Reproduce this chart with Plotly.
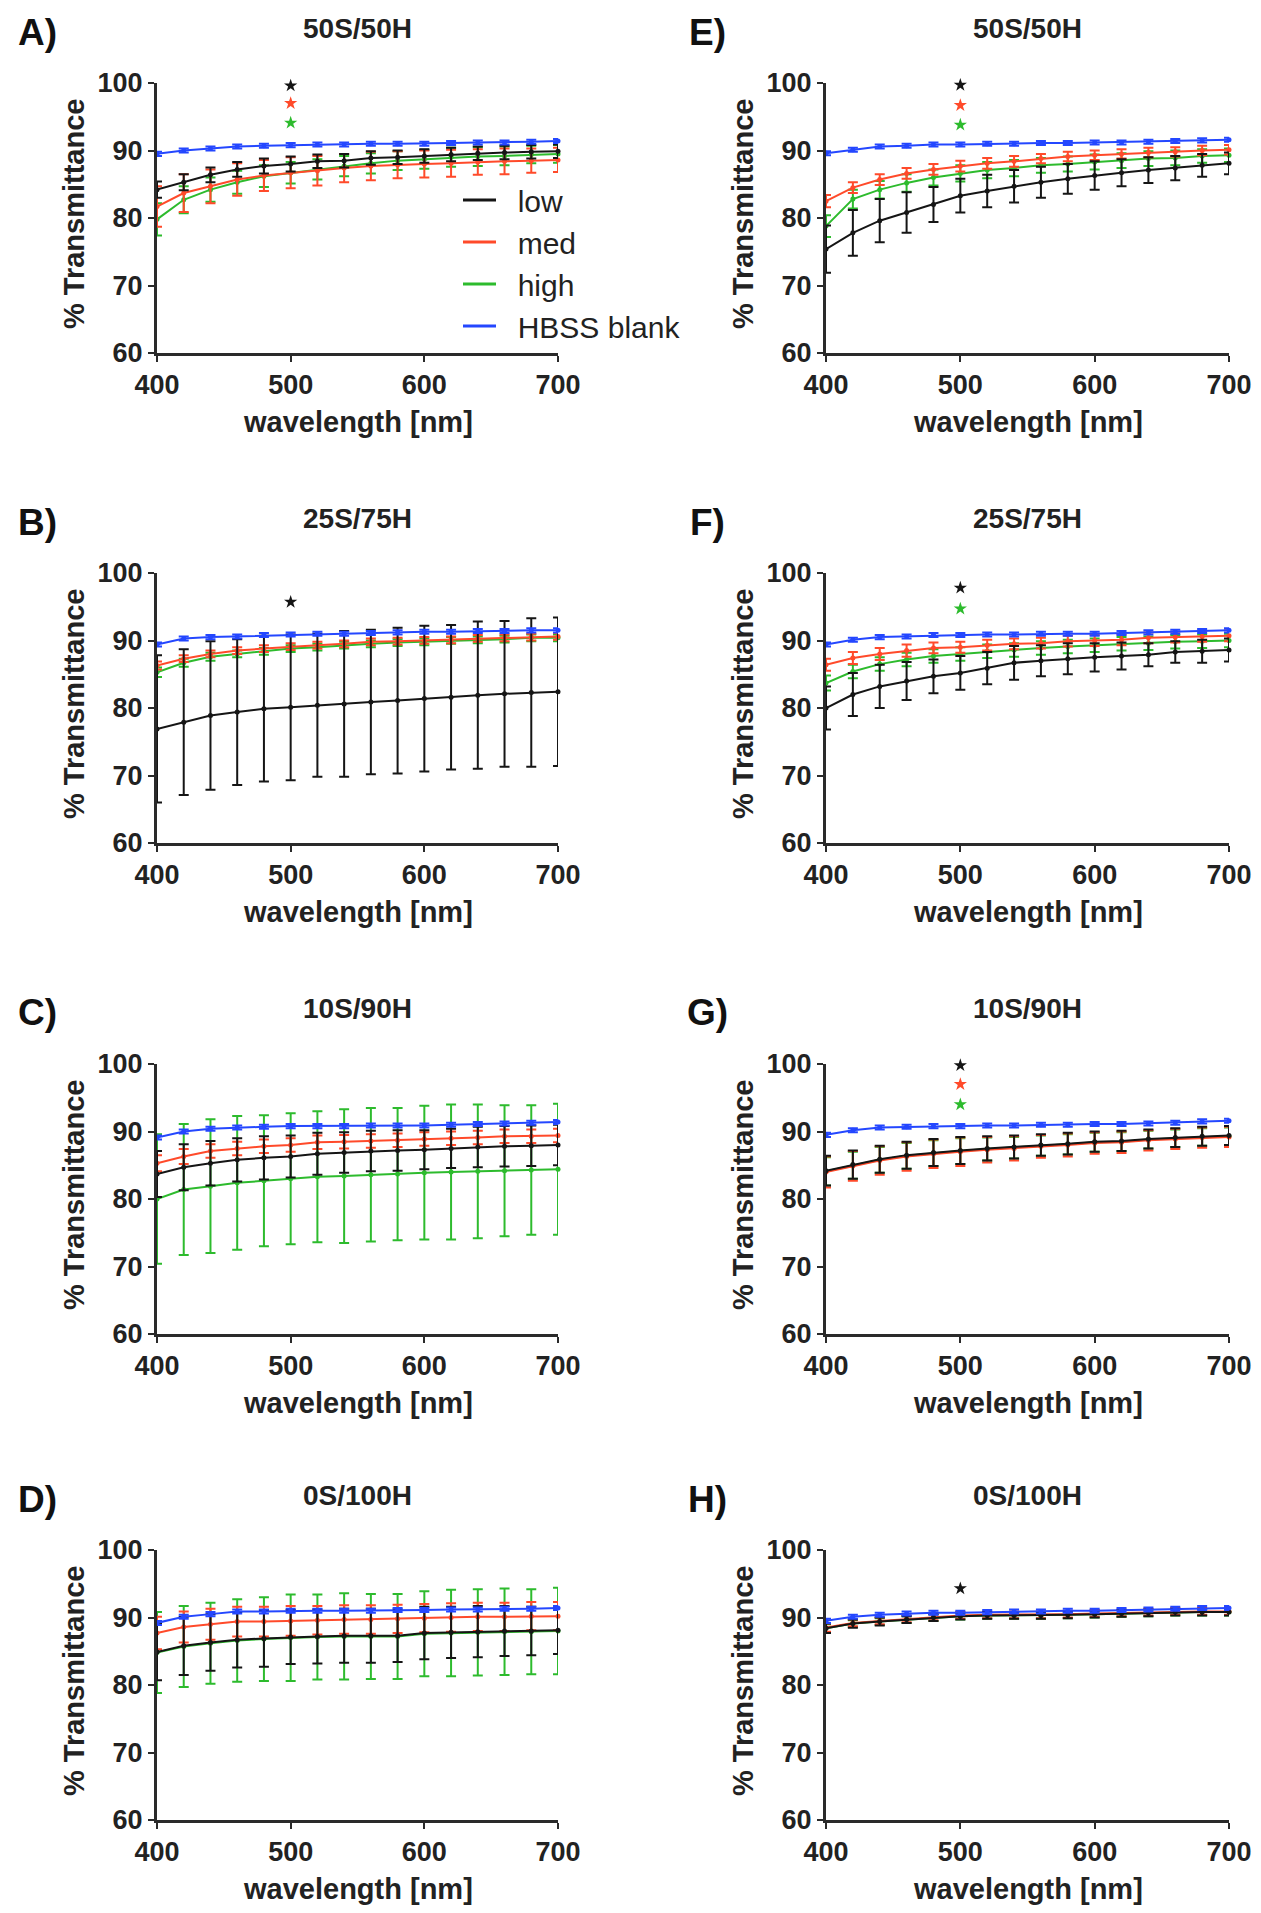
import plotly.graph_objects as go

# ---------------- data ----------------
wavelength = [400, 420, 440, 460, 480, 500, 520, 540, 560, 580, 600, 620, 640, 660, 680, 700]
series_names = ["low", "med", "high", "HBSS blank"]
panel_letters = ["A)", "B)", "C)", "D)", "E)", "F)", "G)", "H)"]
panel_titles = ["50S/50H", "25S/75H", "10S/90H", "0S/100H", "50S/50H", "25S/75H", "10S/90H", "0S/100H"]
x_ticks = [400, 500, 600, 700]
y_ticks = [60, 70, 80, 90, 100]

# Panel A
A_low = [84.2, 85.3, 86.4, 87.2, 87.7, 88.0, 88.4, 88.5, 88.9, 89.0, 89.2, 89.4, 89.6, 89.7, 89.8, 89.9]
A_low_err = [1.2, 1.2, 1.1, 1.1, 1.1, 1.1, 1.0, 1.0, 1.0, 1.0, 1.0, 1.0, 1.0, 1.0, 1.0, 1.0]
A_med = [81.7, 83.7, 84.7, 85.7, 86.3, 86.7, 87.0, 87.4, 87.7, 87.9, 88.0, 88.1, 88.3, 88.4, 88.5, 88.6]
A_med_err = [3.0, 2.8, 2.5, 2.4, 2.3, 2.3, 2.2, 2.1, 2.1, 2.0, 2.0, 2.0, 1.9, 1.9, 1.8, 1.8]
A_high = [79.8, 82.7, 84.2, 85.3, 86.2, 86.7, 87.2, 87.7, 88.1, 88.5, 88.7, 89.0, 89.1, 89.2, 89.4, 89.5]
A_high_err = [2.4, 2.0, 1.8, 1.7, 1.6, 1.6, 1.5, 1.5, 1.5, 1.4, 1.4, 1.4, 1.4, 1.4, 1.3, 1.3]
A_blank = [89.5, 90.0, 90.3, 90.6, 90.7, 90.8, 90.9, 90.9, 91.0, 91.0, 91.0, 91.1, 91.2, 91.2, 91.3, 91.4]
A_blank_err = [0.3] * 16
A_stars = [99.6, 97.0, 94.1]

# Panel B
B_low = [76.9, 77.9, 78.9, 79.4, 79.9, 80.1, 80.4, 80.6, 80.9, 81.1, 81.4, 81.6, 81.9, 82.1, 82.3, 82.4]
B_low_err = [10.9, 10.8, 11.0, 10.8, 10.8, 10.8, 10.6, 10.8, 10.7, 10.8, 10.8, 10.7, 10.9, 10.8, 11.0, 11.0]
B_med = [86.3, 87.3, 88.0, 88.5, 88.8, 89.1, 89.3, 89.5, 89.8, 89.9, 90.0, 90.1, 90.3, 90.4, 90.5, 90.6]
B_med_err = [0.6, 0.5, 0.5, 0.5, 0.5, 0.5, 0.5, 0.5, 0.5, 0.5, 0.5, 0.5, 0.5, 0.5, 0.5, 0.5]
B_high = [85.3, 86.7, 87.6, 88.0, 88.4, 88.8, 89.0, 89.3, 89.5, 89.7, 89.8, 90.0, 90.1, 90.2, 90.4, 90.4]
B_high_err = [0.7, 0.6, 0.6, 0.5, 0.5, 0.5, 0.5, 0.5, 0.5, 0.5, 0.5, 0.5, 0.5, 0.5, 0.5, 0.5]
B_blank = [89.4, 90.3, 90.5, 90.6, 90.8, 90.9, 91.0, 91.0, 91.1, 91.2, 91.3, 91.3, 91.4, 91.4, 91.5, 91.5]
B_blank_err = [0.3] * 16
B_stars = [95.7]

# Panel C
C_low = [83.7, 84.7, 85.3, 85.8, 86.1, 86.3, 86.7, 86.9, 87.1, 87.2, 87.3, 87.5, 87.7, 87.8, 87.9, 88.0]
C_low_err = [3.4, 3.4, 3.3, 3.2, 3.2, 3.1, 3.1, 3.0, 3.0, 3.0, 2.9, 2.9, 3.0, 3.0, 3.0, 3.0]
C_med = [85.3, 86.3, 87.1, 87.5, 87.8, 88.0, 88.4, 88.5, 88.6, 88.7, 88.9, 89.0, 89.1, 89.3, 89.3, 89.4]
C_med_err = [1.2, 1.1, 1.0, 1.0, 1.0, 1.0, 1.0, 1.0, 1.0, 1.0, 1.0, 1.0, 1.0, 1.0, 1.0, 1.0]
C_high = [80.0, 81.4, 81.9, 82.4, 82.7, 83.0, 83.3, 83.4, 83.6, 83.7, 83.9, 84.0, 84.1, 84.2, 84.3, 84.4]
C_high_err = [9.6, 9.7, 9.9, 9.9, 9.7, 9.7, 9.7, 9.9, 9.9, 9.8, 9.9, 10.0, 9.9, 9.7, 9.6, 9.7]
C_blank = [89.1, 90.0, 90.4, 90.6, 90.7, 90.8, 90.8, 90.8, 90.9, 90.9, 90.9, 91.0, 91.1, 91.2, 91.3, 91.4]
C_blank_err = [0.3] * 16
C_stars = []

# Panel D
D_low = [84.9, 85.8, 86.3, 86.7, 86.9, 87.1, 87.2, 87.3, 87.3, 87.3, 87.7, 87.8, 87.9, 88.0, 88.0, 88.1]
D_low_err = [4.2, 4.3, 4.2, 4.1, 4.2, 4.0, 4.0, 4.0, 4.0, 3.9, 3.9, 3.8, 3.8, 3.7, 3.6, 3.5]
D_med = [87.7, 88.6, 89.0, 89.4, 89.4, 89.5, 89.6, 89.7, 89.7, 89.8, 89.9, 90.0, 90.1, 90.1, 90.2, 90.2]
D_med_err = [2.4, 2.3, 2.3, 2.2, 2.2, 2.2, 2.1, 2.1, 2.1, 2.1, 2.1, 2.1, 2.1, 2.1, 2.1, 2.1]
D_high = [84.8, 85.7, 86.2, 86.6, 86.8, 87.0, 87.1, 87.2, 87.2, 87.2, 87.6, 87.7, 87.8, 87.9, 87.9, 88.0]
D_high_err = [6.0, 6.0, 6.0, 6.1, 6.2, 6.4, 6.3, 6.4, 6.3, 6.3, 6.3, 6.4, 6.4, 6.4, 6.3, 6.4]
D_blank = [89.2, 90.1, 90.5, 90.9, 90.9, 91.0, 91.0, 91.0, 91.0, 91.1, 91.1, 91.2, 91.2, 91.3, 91.3, 91.4]
D_blank_err = [0.3] * 16
D_stars = []

# Panel E
E_low = [75.4, 77.8, 79.6, 80.8, 82.0, 83.3, 84.0, 84.7, 85.3, 85.8, 86.3, 86.7, 87.1, 87.4, 87.8, 88.1]
E_low_err = [3.5, 3.4, 3.2, 3.0, 2.6, 2.5, 2.4, 2.4, 2.3, 2.2, 2.1, 2.0, 1.9, 1.8, 1.7, 1.6]
E_med = [82.5, 84.5, 85.7, 86.6, 87.2, 87.7, 88.1, 88.4, 88.8, 89.1, 89.3, 89.5, 89.7, 89.8, 90.0, 90.1]
E_med_err = [0.9, 0.8, 0.8, 0.8, 0.8, 0.8, 0.8, 0.8, 0.7, 0.7, 0.7, 0.7, 0.7, 0.7, 0.7, 0.7]
E_high = [78.8, 82.8, 84.2, 85.2, 86.0, 86.6, 87.1, 87.4, 87.8, 88.0, 88.3, 88.5, 88.8, 88.9, 89.2, 89.3]
E_high_err = [1.6, 1.4, 1.3, 1.3, 1.2, 1.2, 1.2, 1.2, 1.1, 1.1, 1.1, 1.1, 1.1, 1.1, 1.0, 1.0]
E_blank = [89.6, 90.1, 90.6, 90.7, 90.9, 90.9, 91.0, 91.0, 91.1, 91.1, 91.2, 91.2, 91.3, 91.4, 91.5, 91.6]
E_blank_err = [0.3] * 16
E_stars = [99.7, 96.7, 93.8]

# Panel F
F_low = [80.0, 82.0, 83.2, 84.0, 84.7, 85.2, 85.9, 86.7, 87.0, 87.3, 87.5, 87.7, 87.9, 88.3, 88.4, 88.6]
F_low_err = [3.2, 3.2, 3.2, 2.8, 2.5, 2.5, 2.4, 2.5, 2.3, 2.3, 2.1, 2.0, 1.7, 1.6, 1.7, 1.7]
F_med = [86.4, 87.4, 88.0, 88.5, 88.9, 89.0, 89.3, 89.5, 89.6, 89.9, 90.0, 90.1, 90.4, 90.5, 90.6, 90.7]
F_med_err = [0.9, 0.9, 0.9, 0.9, 0.8, 0.8, 0.8, 0.8, 0.8, 0.8, 0.8, 0.8, 0.8, 0.8, 0.8, 0.8]
F_high = [83.7, 85.4, 86.5, 87.2, 87.7, 88.0, 88.4, 88.6, 88.9, 89.1, 89.3, 89.5, 89.6, 89.8, 89.9, 90.0]
F_high_err = [1.1, 1.0, 1.0, 1.0, 1.0, 1.0, 1.0, 1.0, 1.0, 1.0, 1.0, 1.0, 1.0, 1.0, 1.0, 1.0]
F_blank = [89.4, 90.1, 90.5, 90.6, 90.8, 90.8, 90.9, 90.9, 91.0, 91.0, 91.0, 91.1, 91.2, 91.3, 91.4, 91.5]
F_blank_err = [0.3] * 16
F_stars = [97.8, None, 94.7]

# Panel G
G_low = [84.2, 85.1, 85.9, 86.5, 86.9, 87.2, 87.5, 87.7, 88.0, 88.2, 88.5, 88.6, 88.9, 89.1, 89.3, 89.4]
G_low_err = [2.2, 2.1, 2.0, 2.0, 2.0, 2.0, 1.8, 1.7, 1.6, 1.6, 1.5, 1.5, 1.4, 1.4, 1.4, 1.4]
G_med = [84.0, 84.9, 85.7, 86.3, 86.7, 87.0, 87.3, 87.5, 87.8, 88.0, 88.3, 88.4, 88.7, 88.9, 89.1, 89.2]
G_med_err = [2.3, 2.2, 2.1, 2.1, 2.1, 2.1, 1.9, 1.8, 1.7, 1.7, 1.6, 1.6, 1.5, 1.5, 1.5, 1.5]
G_high = [84.1, 85.0, 85.8, 86.4, 86.8, 87.1, 87.4, 87.6, 87.9, 88.1, 88.4, 88.5, 88.8, 89.0, 89.2, 89.3]
G_high_err = [2.1, 2.0, 1.9, 1.9, 1.9, 1.9, 1.7, 1.6, 1.5, 1.5, 1.4, 1.4, 1.3, 1.3, 1.3, 1.3]
G_blank = [89.5, 90.2, 90.6, 90.7, 90.8, 90.8, 90.9, 90.9, 91.0, 91.0, 91.1, 91.1, 91.2, 91.3, 91.5, 91.6]
G_blank_err = [0.3] * 16
G_stars = [99.8, 97.0, 94.0]

# Panel H
H_low = [88.4, 89.1, 89.4, 89.7, 90.0, 90.2, 90.3, 90.3, 90.3, 90.4, 90.5, 90.6, 90.7, 90.8, 90.8, 90.8]
H_low_err = [0.7, 0.6, 0.6, 0.5, 0.5, 0.5, 0.5, 0.5, 0.5, 0.5, 0.5, 0.5, 0.5, 0.5, 0.5, 0.5]
H_med = [88.5, 89.2, 89.5, 89.8, 90.1, 90.3, 90.4, 90.4, 90.4, 90.5, 90.6, 90.7, 90.8, 90.9, 90.9, 90.9]
H_med_err = [0.6, 0.5, 0.5, 0.5, 0.5, 0.5, 0.5, 0.5, 0.5, 0.5, 0.5, 0.5, 0.5, 0.5, 0.5, 0.5]
H_high = [88.4, 89.1, 89.4, 89.7, 90.0, 90.2, 90.3, 90.3, 90.3, 90.4, 90.5, 90.6, 90.7, 90.8, 90.8, 90.8]
H_high_err = [0.6, 0.5, 0.5, 0.5, 0.5, 0.5, 0.5, 0.5, 0.5, 0.5, 0.5, 0.5, 0.5, 0.5, 0.5, 0.5]
H_blank = [89.5, 90.1, 90.4, 90.6, 90.7, 90.7, 90.8, 90.9, 90.9, 91.0, 91.0, 91.1, 91.2, 91.3, 91.4, 91.4]
H_blank_err = [0.3] * 16
H_stars = [94.3]

# ---------------- assembly ----------------
panels = [
    (A_low, A_low_err, A_med, A_med_err, A_high, A_high_err, A_blank, A_blank_err, A_stars),
    (B_low, B_low_err, B_med, B_med_err, B_high, B_high_err, B_blank, B_blank_err, B_stars),
    (C_low, C_low_err, C_med, C_med_err, C_high, C_high_err, C_blank, C_blank_err, C_stars),
    (D_low, D_low_err, D_med, D_med_err, D_high, D_high_err, D_blank, D_blank_err, D_stars),
    (E_low, E_low_err, E_med, E_med_err, E_high, E_high_err, E_blank, E_blank_err, E_stars),
    (F_low, F_low_err, F_med, F_med_err, F_high, F_high_err, F_blank, F_blank_err, F_stars),
    (G_low, G_low_err, G_med, G_med_err, G_high, G_high_err, G_blank, G_blank_err, G_stars),
    (H_low, H_low_err, H_med, H_med_err, H_high, H_high_err, H_blank, H_blank_err, H_stars),
]

colors = {"low": "#151515", "med": "#FF4A2A", "high": "#2DBB2D", "HBSS blank": "#2447FF"}
star_colors = [colors["low"], colors["med"], colors["high"]]

# page geometry: the browser body keeps an 8px margin, so the figure is drawn
# inside that margin and all positions are given in window pixels minus OFF
OFF = 8
W, H = 1261 - 2 * OFF, 1913 - 2 * OFF
col_px = [(157, 558), (826, 1229)]
row_px = [(83, 353), (573, 843), (1064, 1334), (1550, 1820)]


def px(xw):
    return (xw - OFF) / W


def py(yw):
    return 1 - (yw - OFF) / H


FONT = "Liberation Sans, Arial, sans-serif"
AXCOL = "#2a2a2a"
NBSP = "\u00a0"

fig = go.Figure()
layout = dict(
    template="none",
    width=W, height=H, margin=dict(l=0, r=0, t=0, b=0, pad=0, autoexpand=False),
    paper_bgcolor="white", plot_bgcolor="white",
    showlegend=True,
    legend=dict(
        x=px(458), y=py(174), xanchor="left", yanchor="top",
        font=dict(family=FONT, size=30, color="#222"),
        bgcolor="rgba(255,255,255,0)", borderwidth=0, itemwidth=33,
        traceorder="grouped", tracegroupgap=0,
    ),
)
annotations = []

# legend-only line entries
for rank, name in enumerate(series_names):
    fig.add_trace(go.Scatter(
        x=[None], y=[None], mode="lines", name=NBSP * 2 + name,
        line=dict(color=colors[name], width=3),
        legendgroup=name, legendrank=rank + 1, showlegend=True, hoverinfo="skip",
    ))

for i, p in enumerate(panels):
    low, low_e, med, med_e, high, high_e, blank, blank_e, stars = p
    col = i // 4
    row = i % 4
    n = i + 1
    xa = "x" if n == 1 else f"x{n}"
    ya = "y" if n == 1 else f"y{n}"
    x0, x1 = col_px[col]
    y0, y1 = row_px[row]
    common = dict(
        ticks="outside", ticklen=6, tickwidth=2, tickcolor=AXCOL,
        showline=True, linewidth=3, linecolor=AXCOL, showgrid=False, zeroline=False,
        automargin=False, fixedrange=True,
        tickfont=dict(family=FONT, size=27, color="#222", weight="bold"),
    )
    layout[f"xaxis{'' if n == 1 else n}"] = dict(
        domain=[px(x0), px(x1)], anchor=ya, range=[400, 700], tickvals=x_ticks, **common)
    layout[f"yaxis{'' if n == 1 else n}"] = dict(
        domain=[py(y1), py(y0)], anchor=xa, range=[60, 100], tickvals=y_ticks, **common)
    order = [("high", high, high_e), ("med", med, med_e), ("low", low, low_e),
             ("HBSS blank", blank, blank_e)]
    for name, yv, ev in order:
        c = colors[name]
        fig.add_trace(go.Scatter(
            x=wavelength, y=yv, name=name, mode="lines+markers",
            line=dict(color=c, width=2), marker=dict(color=c, size=5),
            error_y=dict(type="data", array=ev, visible=True, color=c, thickness=2, width=5),
            xaxis=xa, yaxis=ya, cliponaxis=False,
            showlegend=False, legendgroup=name,
        ))
    # significance stars at 500 nm
    sx, sy, sc = [], [], []
    for k, s in enumerate(stars):
        if s is not None:
            sx.append(500)
            sy.append(s)
            sc.append(star_colors[k])
    if sx:
        fig.add_trace(go.Scatter(
            x=sx, y=sy, mode="markers", marker=dict(symbol="star", size=10, color=sc),
            xaxis=xa, yaxis=ya, showlegend=False, cliponaxis=False, hoverinfo="skip",
        ))
    cx = (x0 + x1) / 2
    annotations.append(dict(
        text=panel_titles[i], xref="paper", yref="paper", x=px(cx), y=py(y0 - 55),
        xanchor="center", yanchor="middle", showarrow=False,
        font=dict(family=FONT, size=28, color="#222", weight="bold"),
    ))
    lx = 37 if col == 0 else 707
    annotations.append(dict(
        text=panel_letters[i], xref="paper", yref="paper", x=px(lx), y=py(y0 - 51),
        xanchor="center", yanchor="middle", showarrow=False,
        font=dict(family=FONT, size=37, color="#111", weight="bold"),
    ))
    annotations.append(dict(
        text="wavelength [nm]", xref="paper", yref="paper", x=px(cx), y=py(y1 + 69),
        xanchor="center", yanchor="middle", showarrow=False,
        font=dict(family=FONT, size=29, color="#222", weight="bold"),
    ))
    annotations.append(dict(
        text="% Transmittance", xref="paper", yref="paper", x=px(x0 - 83),
        y=py((y0 + y1) / 2 - 4), xanchor="center", yanchor="middle",
        showarrow=False, textangle=-90,
        font=dict(family=FONT, size=29, color="#222", weight="bold"),
    ))

layout["annotations"] = annotations
fig.update_layout(**layout)
fig.write_html("out.html")
